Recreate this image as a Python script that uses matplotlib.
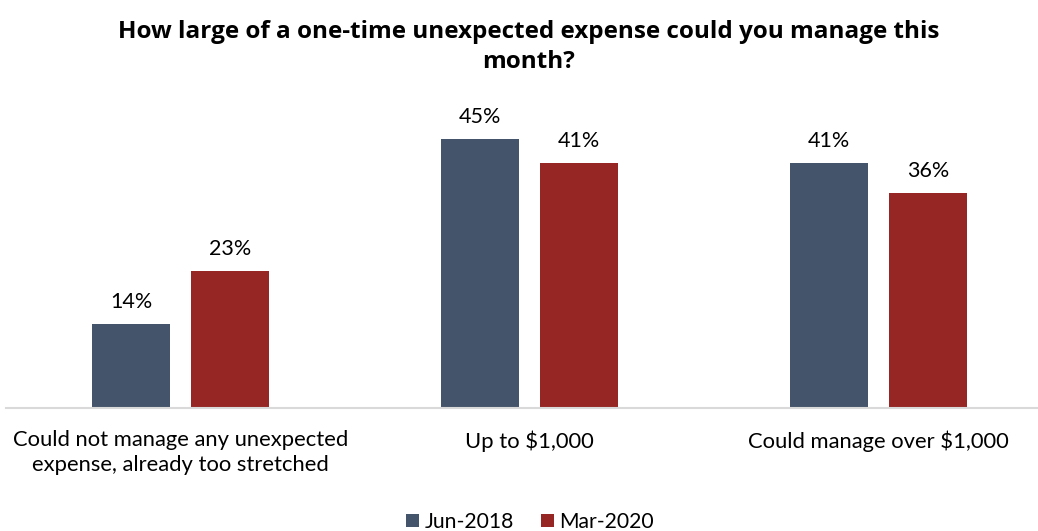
import matplotlib
matplotlib.use("Agg")
import matplotlib.pyplot as plt
import numpy as np

categories = ["Could not manage any unexpected\nexpense, already too stretched",
              "Up to $1,000",
              "Could manage over $1,000"]
series_names = ["Jun-2018", "Mar-2020"]
jun_2018 = [14, 45, 41]
mar_2020 = [23, 41, 36]
colors = ["#44546A", "#952623"]

plt.rcParams["font.family"] = ["Lato", "DejaVu Sans"]

fig = plt.figure(figsize=(10.38, 5.31), dpi=100)
W, H = 1038, 531
ax = fig.add_axes([6 / W, 123 / H, (1053 - 6) / W, 298.5 / H])

x = np.arange(len(categories))
bw = 0.2235
off = (bw + 0.06) / 2
for vals, dx, c, name in [(jun_2018, -off, colors[0], series_names[0]),
                          (mar_2020, off, colors[1], series_names[1])]:
    bars = ax.bar(x + dx, vals, width=bw, color=c, label=name, zorder=2)
    for b, v in zip(bars, vals):
        ax.text(b.get_x() + b.get_width() / 2, v + 2.0, f"{v}%",
                ha="center", va="bottom", fontsize=15.5, color="#000000")

ax.set_xlim(-0.5, 2.5)
ax.set_ylim(0, 50)
for s in ["top", "right", "left"]:
    ax.spines[s].set_visible(False)
ax.spines["bottom"].set_color("#D9D9D9")
ax.spines["bottom"].set_linewidth(1.5)
ax.set_yticks([])
ax.set_xticks(x)
ax.set_xticklabels(categories, fontsize=15.8, linespacing=1.32)
ax.tick_params(axis="x", length=0, pad=16)

fig.text(529 / W, 1 - 47 / H, "How large of a one-time unexpected expense could you manage this\nmonth?",
         ha="center", va="center", fontsize=17.5, fontweight="bold",
         family=["Open Sans", "DejaVu Sans"], linespacing=1.38)

fig.legend(loc="center", bbox_to_anchor=(530 / W, 1 - 522 / H), ncol=2,
           frameon=False, fontsize=15.2, handlelength=0.6, handleheight=0.6,
           handletextpad=0.25, columnspacing=1.3, borderpad=0)

fig.savefig("out.png", dpi=100)
